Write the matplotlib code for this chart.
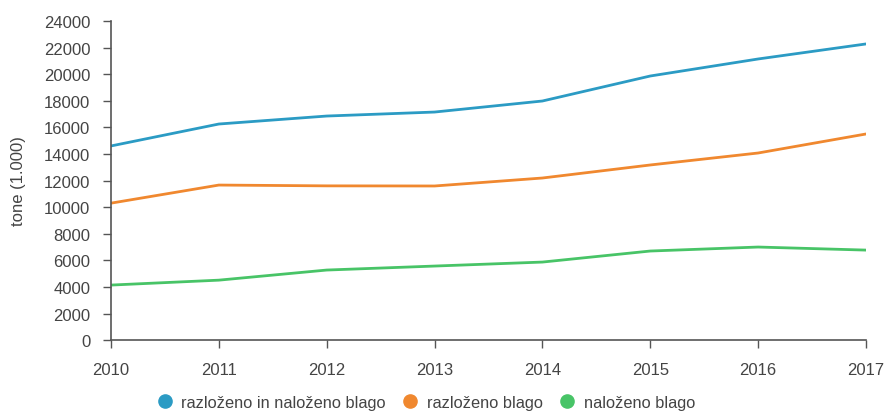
import matplotlib
matplotlib.use("Agg")
import matplotlib.pyplot as plt
from matplotlib.lines import Line2D

plt.rcParams['font.family'] = ['Liberation Sans', 'DejaVu Sans']

years = [2010, 2011, 2012, 2013, 2014, 2015, 2016, 2017]
total = [14600, 16250, 16850, 17150, 17980, 19860, 21140, 22270]
unloaded = [10300, 11660, 11600, 11590, 12190, 13170, 14070, 15500]
loaded = [4140, 4510, 5270, 5570, 5870, 6700, 7000, 6770]
series_names = ['razloženo in naloženo blago', 'razloženo blago', 'naloženo blago']
colors = ['#2b9bc4', '#f0882f', '#48c467']
yticks = list(range(0, 24001, 2000))

fig = plt.figure(figsize=(8.9, 4.14), dpi=100)
ax = fig.add_axes([0.1247, 0.176, 0.973 - 0.1247, 0.947 - 0.176])

for vals, c in zip([total, unloaded, loaded], colors):
    ax.plot(years, vals, color=c, lw=2, solid_capstyle='round')

ax.set_xlim(2010, 2017)
ax.set_ylim(0, 24000)
ax.set_xticks(years)
ax.set_yticks(yticks)
ax.set_xticklabels([str(y) for y in years])
for s in ['top', 'right']:
    ax.spines[s].set_visible(False)
for s in ['left', 'bottom']:
    ax.spines[s].set_color('#555555')
    ax.spines[s].set_linewidth(1.2)
ax.tick_params(axis='both', colors='#555555', labelcolor='#444444', labelsize=12, length=6, width=1)
ax.tick_params(axis='x', pad=10)
ax.tick_params(axis='y', pad=9)
ax.set_ylabel('tone (1.000)', fontsize=12, color='#444444')
ax.yaxis.set_label_coords(-0.112, 0.5)

handles = [Line2D([], [], marker='o', ls='none', color=c, markersize=9.5) for c in colors]
fig.legend(handles, series_names, loc='center', bbox_to_anchor=(0.474, 0.026), ncol=3,
           frameon=False, fontsize=11.8, handletextpad=0.0, columnspacing=0.5,
           labelcolor='#444444', borderaxespad=0, borderpad=0)

fig.savefig('out.png', dpi=100)
